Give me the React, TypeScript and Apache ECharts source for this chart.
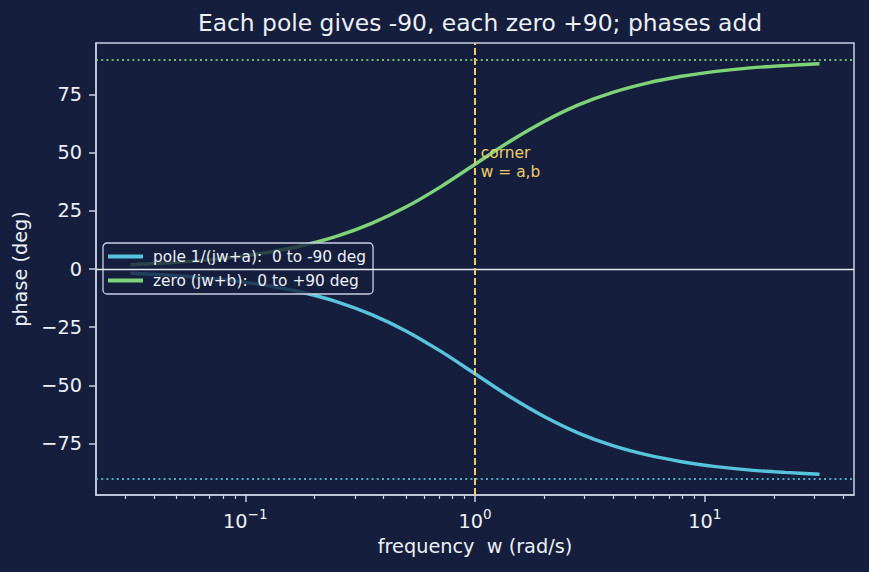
import React, { useEffect, useRef } from "react";
import * as echarts from "echarts";

const TITLE = "Each pole gives -90, each zero +90; phases add";
const X_TITLE = "frequency  w (rad/s)";
const Y_TITLE = "phase (deg)";

// angular frequency samples (rad/s)
const freqs = [0.0316, 0.045, 0.063, 0.089, 0.126, 0.178, 0.251, 0.355, 0.5, 0.708, 1, 1.41, 2, 2.82, 3.98, 5.62, 7.94, 11.2, 15.8, 22.4, 31.6];
// phase of pole 1/(jw+a), degrees
const polePhase = [-1.8, -2.6, -3.6, -5.1, -7.2, -10.1, -14.1, -19.6, -26.6, -35.3, -45, -54.7, -63.4, -70.5, -75.9, -79.9, -82.8, -84.9, -86.4, -87.4, -88.2];
// phase of zero (jw+b), degrees
const zeroPhase = [1.8, 2.6, 3.6, 5.1, 7.2, 10.1, 14.1, 19.6, 26.6, 35.3, 45, 54.7, 63.4, 70.5, 75.9, 79.9, 82.8, 84.9, 86.4, 87.4, 88.2];

const majorTicks = [0.1, 1, 10];
const minorTicks = [0.03, 0.04, 0.05, 0.06, 0.07, 0.08, 0.09, 0.2, 0.3, 0.4, 0.5, 0.6, 0.7, 0.8, 0.9, 2, 3, 4, 5, 6, 7, 8, 9, 20, 30, 40];
const yTicks = [-75, -50, -25, 0, 25, 50, 75];

const X_MIN = 0.02239;
const X_MAX = 44.67;
const Y_MIN = -97.1;
const Y_MAX = 97.1;
const CORNER = 1;
const ASYMPTOTE = 90;

const BG = "#151f3d";
const SPINE = "#c9d0e2";
const TEXT = "#eef0f6";
const POLE = "#58c3dd";
const ZERO = "#7fd47a";
const YELLOW = "#f0cc66";
const FONT = "DejaVu Sans";

const lg = (v: number) => Math.log10(v);

export default function App() {
  const ref = useRef<HTMLDivElement>(null);
  useEffect(() => {
    if (!ref.current) return;
    const chart = echarts.init(ref.current, null, { renderer: "svg" });
    const supExp = (v: number) => {
      const e = Math.round(v);
      return e < 0 ? "\u2212" + Math.abs(e) : String(e);
    };
    const option: any = {
      animation: false,
      backgroundColor: BG,
      textStyle: { fontFamily: FONT },
      title: {
        text: TITLE,
        left: 475,
        textAlign: "center",
        top: 4,
        textStyle: { color: TEXT, fontSize: 23.4, lineHeight: 27, fontWeight: "normal", fontFamily: FONT },
      },
      legend: {
        left: 103,
        top: 243,
        orient: "vertical",
        icon: "rect",
        itemWidth: 35,
        itemHeight: 4,
        itemGap: 8,
        padding: [5.5, 7, 5.5, 5],
        backgroundColor: "rgba(21,31,61,0.8)",
        borderColor: SPINE,
        borderWidth: 1.3,
        borderRadius: 4,
        textStyle: { color: TEXT, fontSize: 15.4, lineHeight: 16, fontFamily: FONT, padding: [0, 0, 0, 5] },
        data: ["pole 1/(jw+a):  0 to -90 deg", "zero (jw+b):  0 to +90 deg"],
      },
      grid: {
        left: 96,
        right: 15,
        top: 43,
        bottom: 77,
        show: true,
        borderColor: SPINE,
        borderWidth: 1.5,
        backgroundColor: BG,
      },
      xAxis: [
        {
          type: "value",
          position: "bottom",
          min: lg(X_MIN),
          max: lg(X_MAX),
          name: X_TITLE,
          nameLocation: "middle",
          nameGap: 42,
          nameTextStyle: { color: TEXT, fontSize: 19.3, fontFamily: FONT },
          axisLine: { show: true, onZero: false, lineStyle: { color: SPINE, width: 1.5 } },
          axisTick: {
            show: true,
            length: 7,
            customValues: majorTicks.map(lg),
            lineStyle: { color: SPINE, width: 1.5 },
          },
          axisLabel: {
            show: true,
            customValues: majorTicks.map(lg),
            margin: 12,
            formatter: (v: number) => `{b|10}{s|${supExp(v)}}`,
            rich: {
              b: { color: TEXT, fontSize: 19.3, fontFamily: FONT, lineHeight: 24, verticalAlign: "bottom" },
              s: { color: TEXT, fontSize: 13.5, fontFamily: FONT, lineHeight: 24, verticalAlign: "top" },
            },
          },
          splitLine: { show: false },
        },
        {
          type: "value",
          position: "bottom",
          min: lg(X_MIN),
          max: lg(X_MAX),
          axisLine: { show: false, onZero: false },
          axisTick: {
            show: true,
            length: 4,
            customValues: minorTicks.map(lg),
            lineStyle: { color: SPINE, width: 1.2 },
          },
          axisLabel: { show: false },
          splitLine: { show: false },
        },
      ],
      yAxis: {
        type: "value",
        min: Y_MIN,
        max: Y_MAX,
        name: Y_TITLE,
        nameLocation: "middle",
        nameGap: 62,
        nameTextStyle: { color: TEXT, fontSize: 19.3, fontFamily: FONT },
        axisLine: { show: true, onZero: false, lineStyle: { color: SPINE, width: 1.5 } },
        axisTick: { show: true, length: 7, customValues: yTicks, lineStyle: { color: SPINE, width: 1.5 } },
        axisLabel: {
          customValues: yTicks,
          color: TEXT,
          fontSize: 19.3,
          fontFamily: FONT,
          margin: 14,
          formatter: (v: number) => String(v).replace("-", "\u2212"),
        },
        splitLine: { show: false },
      },
      series: [
        {
          name: "pole 1/(jw+a):  0 to -90 deg",
          type: "line",
          data: freqs.map((w, i) => [lg(w), polePhase[i]]),
          showSymbol: false,
          smooth: 0.3,
          lineStyle: { color: POLE, width: 3.4 },
          itemStyle: { color: POLE },
          z: 3,
          markLine: {
            silent: true,
            symbol: "none",
            label: { show: false },
            data: [
              { yAxis: -ASYMPTOTE, lineStyle: { color: POLE, type: [2, 3.2], width: 1.9, opacity: 0.85 } },
              { yAxis: 0, lineStyle: { color: "#e6e9f1", type: "solid", width: 1.3 } },
              { xAxis: lg(CORNER), lineStyle: { color: YELLOW, type: [7, 3], width: 2 } },
            ],
          },
        },
        {
          name: "zero (jw+b):  0 to +90 deg",
          type: "line",
          data: freqs.map((w, i) => [lg(w), zeroPhase[i]]),
          showSymbol: false,
          smooth: 0.3,
          lineStyle: { color: ZERO, width: 3.4 },
          itemStyle: { color: ZERO },
          z: 3,
          markLine: {
            silent: true,
            symbol: "none",
            label: { show: false },
            data: [
              { yAxis: ASYMPTOTE, lineStyle: { color: ZERO, type: [2, 3.2], width: 1.9, opacity: 0.85 } },
            ],
          },
          markPoint: {
            silent: true,
            symbol: "circle",
            symbolSize: 0,
            data: [
              {
                coord: [lg(1.05), 40],
                label: {
                  show: true,
                  formatter: "corner\nw = a,b",
                  position: "inside",
                  align: "left",
                  verticalAlign: "bottom",
                  color: YELLOW,
                  fontSize: 15.4,
                  lineHeight: 18.5,
                  fontFamily: FONT,
                  offset: [1, 5],
                },
              },
            ],
          },
        },
      ],
    };
    chart.setOption(option);
    return () => chart.dispose();
  }, []);
  return <div ref={ref} style={{ width: 869, height: 572, position: "absolute", left: 0, top: 0 }} />;
}
